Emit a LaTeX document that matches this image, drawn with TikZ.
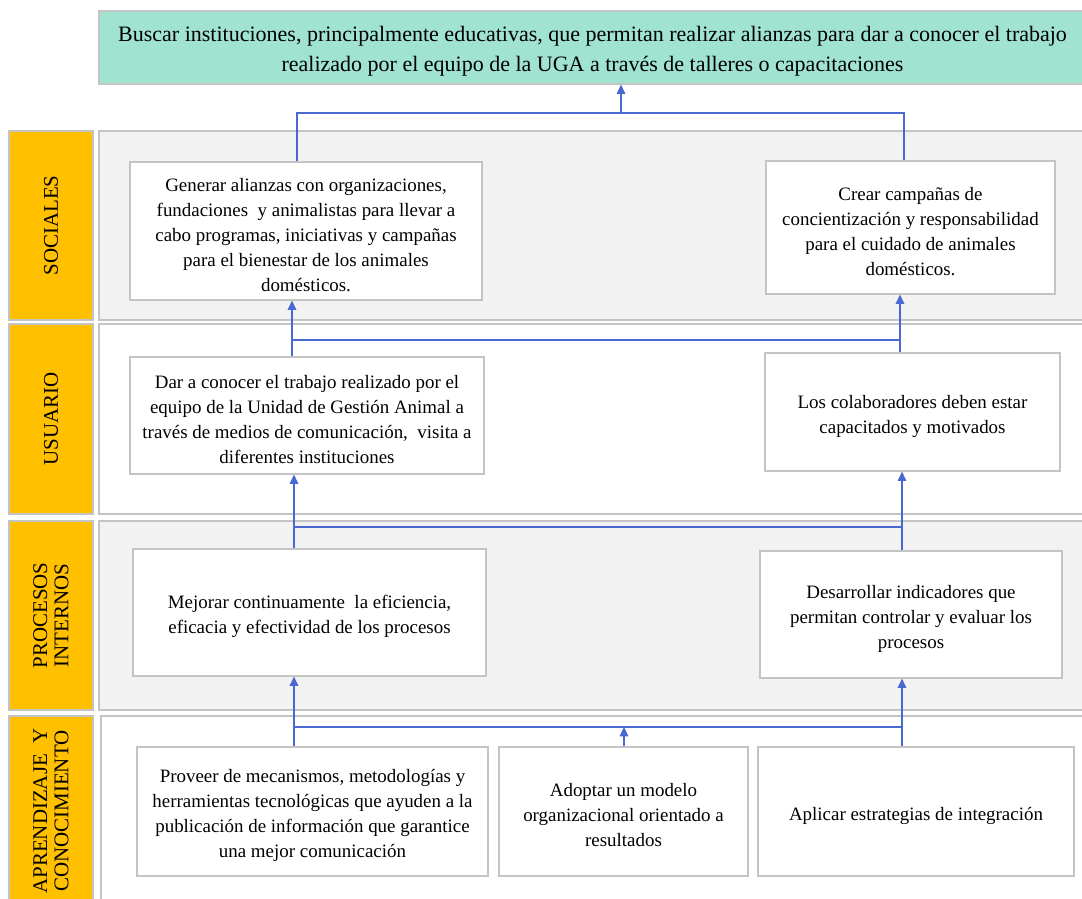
\documentclass[tikz,border=0pt]{standalone}
\usepackage{fontspec}
\setmainfont{Liberation Serif}
\usetikzlibrary{fit,arrows.meta}
\definecolor{mint}{HTML}{A0E3D0}
\definecolor{gold}{HTML}{FFC000}
\definecolor{panelgray}{HTML}{F2F2F2}
\definecolor{edgegray}{HTML}{C4C4C4}
\definecolor{connblue}{HTML}{4A68D2}
\begin{document}
\begin{tikzpicture}[x=0.75pt,y=-0.75pt,
  every node/.style={font=\fontsize{14.2}{18.75}\selectfont},
  box/.style={draw=edgegray, line width=0.9pt, fill=white, inner sep=0pt},
  boxtext/.style={align=center, inner sep=0pt, yshift=-3pt},
  panel/.style={draw=edgegray, line width=1.2pt, inner sep=0pt},
  lab/.style={draw=edgegray, line width=1.2pt, fill=gold, inner sep=0pt},
  labtext/.style={rotate=90, align=center, inner sep=0pt, font=\fontsize{15.7}{16}\selectfont},
  conn/.style={draw=connblue, line width=0.8pt},
  arr/.style={conn, -{Triangle[length=7pt,width=6.5pt]}}]
\useasboundingbox (0,0) rectangle (1082,899);
\clip (0,0) rectangle (1082,899);

% panels
\node[panel, fill=panelgray, fit={(99,131)(1095,320)}] (p1) {};
\node[panel, fill=white, fit={(99,324)(1095,514)}] (p2) {};
\node[panel, fill=panelgray, fit={(99,521)(1095,710)}] (p3) {};
\node[panel, fill=white, fit={(101,716)(1095,906)}] (p4) {};

% side labels
\node[lab, fit={(9,131)(93,320)}] (l1) {};
\node[lab, fit={(9,324)(93,514)}] (l2) {};
\node[lab, fit={(9,521)(93,710)}] (l3) {};
\node[lab, fit={(9,716)(93,906)}] (l4) {};
\node[labtext] (t1) at (l1.center) {SOCIALES};
\node[labtext] (t2) at (l2.center) {USUARIO};
\node[labtext] (t3) at (l3.center) {PROCESOS\\INTERNOS};
\node[labtext] (t4) at (l4.center) {APRENDIZAJE~ Y\\CONOCIMIENTO};

% top goal
\node[box, fill=mint, fit={(99,11)(1086,84)},
  label={[boxtext, font=\fontsize{16.5}{22.5}\selectfont]center:{Buscar instituciones, principalmente educativas, que permitan realizar alianzas para dar a conocer el trabajo\\
   realizado por el equipo de la UGA a través de talleres o capacitaciones}}] (top) {};

% boxes
\node[box, fit={(130,162)(482,300)}, label={[boxtext]center:{Generar alianzas con organizaciones,\\fundaciones~ y animalistas para llevar a\\cabo programas, iniciativas y campañas\\para el bienestar de los animales\\domésticos.}}] (gen) {};
\node[box, fit={(766,161)(1055,294)}, label={[boxtext]center:{Crear campañas de\\concientización y responsabilidad\\para el cuidado de animales\\domésticos.}}] (cre) {};
\node[box, fit={(130,357)(484,474)}, label={[boxtext]center:{Dar a conocer el trabajo realizado por el\\equipo de la Unidad de Gestión Animal a\\través de medios de comunicación,~ visita a\\diferentes instituciones}}] (dar) {};
\node[box, fit={(765,353)(1060,471)}, label={[boxtext]center:{Los colaboradores deben estar\\capacitados y motivados}}] (col) {};
\node[box, fit={(133,549)(486,676)}, label={[boxtext]center:{Mejorar continuamente~ la eficiencia,\\eficacia y efectividad de los procesos}}] (mej) {};
\node[box, fit={(760,551)(1062,678)}, label={[boxtext]center:{Desarrollar indicadores que\\permitan controlar y evaluar los\\procesos}}] (des) {};
\node[box, fit={(137,747)(488,876)}, label={[boxtext]center:{Proveer de mecanismos, metodologías y\\herramientas tecnológicas que ayuden a la\\publicación de información que garantice\\una mejor comunicación}}] (pro) {};
\node[box, fit={(499,747)(748,876)}, label={[boxtext]center:{Adoptar un modelo\\organizacional orientado a\\resultados}}] (ado) {};
\node[box, fit={(758,747)(1074,876)}, label={[boxtext]center:{Aplicar estrategias de integración}}] (apl) {};

% connectors row 1 -> top
\coordinate (a1) at (297,113);
\coordinate (b1) at (904,113);
\coordinate (m1) at (621,113);
\draw[conn] (gen.north -| a1) -- (a1) -- (b1) -- (cre.north -| b1);
\draw[arr] (m1) -- (top.south -| m1);

% row 2 -> row 1
\coordinate (a2) at (292,340);
\coordinate (b2) at (900,340);
\draw[conn] (a2) -- (b2);
\draw[arr] (dar.north -| a2) -- (gen.south -| a2);
\draw[arr] (col.north -| b2) -- (cre.south -| b2);

% row 3 -> row 2
\coordinate (a3) at (294,527);
\coordinate (b3) at (902,527);
\draw[conn] (a3) -- (b3);
\draw[arr] (mej.north -| a3) -- (dar.south -| a3);
\draw[arr] (des.north -| b3) -- (col.south -| b3);

% row 4 -> row 3
\coordinate (a4) at (294,727);
\coordinate (b4) at (902,727);
\coordinate (m4) at (624,727);
\draw[conn] (a4) -- (b4);
\draw[arr] (pro.north -| a4) -- (mej.south -| a4);
\draw[arr] (apl.north -| b4) -- (des.south -| b4);
\draw[arr] (ado.north -| m4) -- (m4);
\end{tikzpicture}
\end{document}
